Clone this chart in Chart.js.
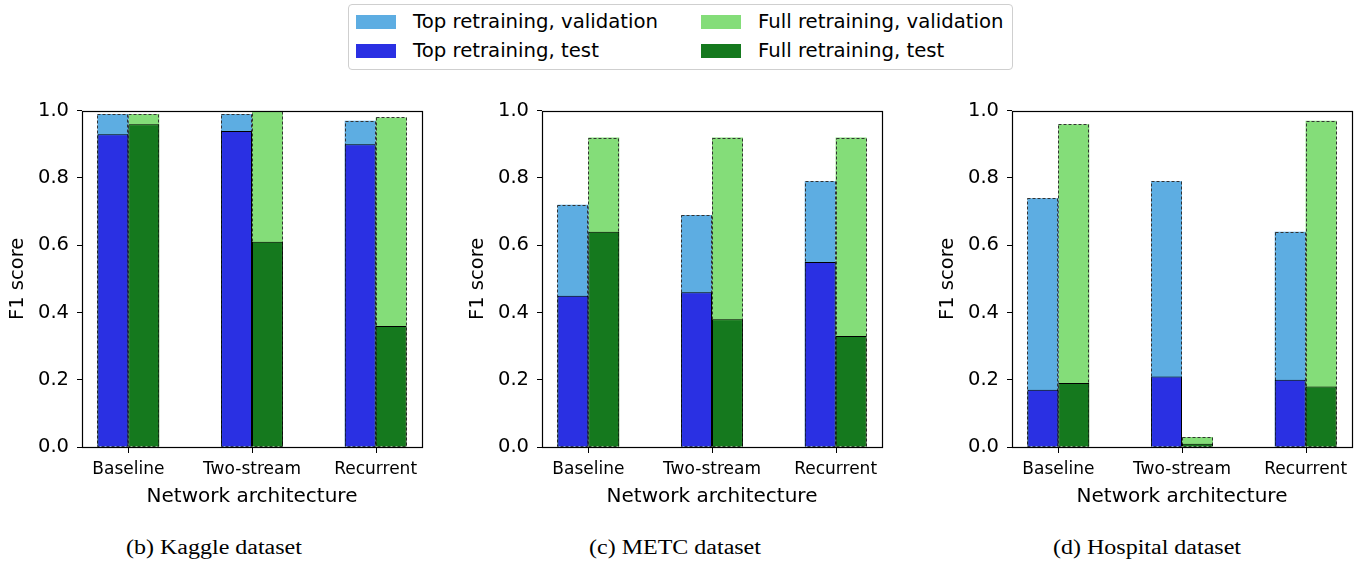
<!DOCTYPE html>
<html>
<head>
<meta charset="utf-8">
<script src="https://cdn.jsdelivr.net/npm/chart.js@4.4.0/dist/chart.umd.min.js"></script>
<style>
body { margin:0; width:1366px; height:565px; background:#fff; position:relative; overflow:hidden; font-family:"DejaVu Sans"; }
canvas { position:absolute; top:91px; }
#legendBox { position:absolute; left:348px; top:4px; width:665px; height:66px; border:1px solid #cfcfcf; border-radius:4px; box-sizing:border-box; }
.sw { position:absolute; width:40px; height:14px; }
.tx { position:absolute; font-size:19.7px; line-height:22px; white-space:nowrap; color:#000; }
.cap { position:absolute; top:535px; font-family:"Liberation Serif"; font-size:20px; line-height:24px; color:#000; white-space:nowrap; transform:scaleX(1.2); transform-origin:left top; }
</style>
</head>
<body>
<div id="legendBox"></div>
<canvas id="c1" width="440" height="424" style="left:0px"></canvas>
<canvas id="c2" width="440" height="424" style="left:460px"></canvas>
<canvas id="c3" width="436" height="424" style="left:930px"></canvas>
<div class="cap" style="left:126px">(b) Kaggle dataset</div>
<div class="cap" style="left:589px">(c) METC dataset</div>
<div class="cap" style="left:1053px">(d) Hospital dataset</div>
<script>
var categories = ['Baseline', 'Two-stream', 'Recurrent'];
var yTickLabels = ['0.0', '0.2', '0.4', '0.6', '0.8', '1.0'];

// Kaggle
var kaggleTopVal = [0.99, 0.99, 0.97];
var kaggleTopTest = [0.93, 0.94, 0.90];
var kaggleFullVal = [0.99, 1.00, 0.98];
var kaggleFullTest = [0.96, 0.61, 0.36];
// METC
var metcTopVal = [0.72, 0.69, 0.79];
var metcTopTest = [0.45, 0.46, 0.55];
var metcFullVal = [0.92, 0.92, 0.92];
var metcFullTest = [0.64, 0.38, 0.33];
// Hospital
var hospTopVal = [0.74, 0.79, 0.64];
var hospTopTest = [0.17, 0.21, 0.20];
var hospFullVal = [0.96, 0.03, 0.97];
var hospFullTest = [0.19, 0.01, 0.18];

var cTopVal = '#5dade2';
var cTopTest = '#2a30e3';
var cFullVal = '#84dd79';
var cFullTest = '#15791e';

// legend (matplotlib fills columns first)
var legendLabels = ['Top retraining, validation', 'Top retraining, test', 'Full retraining, validation', 'Full retraining, test'];
var legendColors = [cTopVal, cTopTest, cFullVal, cFullTest];
var legendPos = [[356, 15], [356, 44], [701, 15], [701, 44]];
legendLabels.forEach(function(l, i) {
    let sw = document.createElement('div');
    sw.className = 'sw';
    sw.style.left = legendPos[i][0] + 'px';
    sw.style.top = legendPos[i][1] + 'px';
    sw.style.background = legendColors[i];
    document.body.appendChild(sw);
    let tx = document.createElement('div');
    tx.className = 'tx';
    tx.style.left = (legendPos[i][0] + 57) + 'px';
    tx.style.top = (legendPos[i][1] - 4) + 'px';
    tx.textContent = l;
    document.body.appendChild(tx);
});

Chart.defaults.font.family = 'DejaVu Sans';
Chart.defaults.color = '#000';

let pts = (arr) => arr.map((v, i) => ({x: i, y: v}));

// dashed edges for the validation bars (behind the test bars)
const dashPlugin = {
    id: 'dashEdge',
    afterDatasetDraw(chart, args) {
        let ds = chart.data.datasets[args.index];
        if (!ds.dashed) return;
        let ctx = chart.ctx;
        ctx.save();
        ctx.strokeStyle = '#333';
        ctx.lineWidth = 1;
        ctx.setLineDash([3, 2]);
        args.meta.data.forEach(function(bar) {
            let p = bar.getProps(['x', 'y', 'base', 'width'], true);
            let x0 = Math.round(p.x - p.width / 2) + 0.5;
            let w = Math.round(p.width) - 1;
            let y0 = Math.round(p.y) + 0.5;
            ctx.strokeRect(x0, y0, w, p.base - y0);
        });
        ctx.restore();
    }
};

// axes box + x tick marks at the category centres
const framePlugin = {
    id: 'frame',
    afterDraw(chart) {
        let a = chart.chartArea;
        let ctx = chart.ctx;
        ctx.save();
        ctx.strokeStyle = '#000';
        ctx.lineWidth = 1.2;
        ctx.strokeRect(Math.round(a.left) + 0.5, Math.round(a.top) + 0.5, Math.round(a.right - a.left), Math.round(a.bottom - a.top));
        ctx.lineWidth = 1;
        let xs = chart.scales.x;
        categories.forEach(function(c, i) {
            let px = Math.round(xs.getPixelForValue(i)) + 0.5;
            ctx.beginPath();
            ctx.moveTo(px, Math.round(a.bottom));
            ctx.lineTo(px, Math.round(a.bottom) + 6);
            ctx.stroke();
        });
        ctx.restore();
    }
};

function makeChart(id, topVal, topTest, fullVal, fullTest, padRight) {
    new Chart(document.getElementById(id), {
        type: 'bar',
        data: {
            datasets: [
                {label: 'Top retraining, test', data: pts(topTest), stack: 'top', order: 0,
                 backgroundColor: cTopTest, borderColor: '#000', borderWidth: 1},
                {label: 'Full retraining, test', data: pts(fullTest), stack: 'full', order: 0,
                 backgroundColor: cFullTest, borderColor: '#000', borderWidth: 1},
                {label: 'Top retraining, validation', data: pts(topVal), stack: 'top', order: 1,
                 backgroundColor: cTopVal, borderWidth: 0, dashed: true},
                {label: 'Full retraining, validation', data: pts(fullVal), stack: 'full', order: 1,
                 backgroundColor: cFullVal, borderWidth: 0, dashed: true}
            ]
        },
        options: {
            responsive: false,
            animation: false,
            devicePixelRatio: 1,
            categoryPercentage: 0.5,
            barPercentage: 1,
            layout: {padding: {top: 11, right: padRight, left: 0, bottom: 0}},
            plugins: {legend: {display: false}, tooltip: {enabled: false}},
            scales: {
                x: {
                    type: 'linear',
                    stacked: true,
                    offset: false,
                    min: -0.375,
                    max: 2.375,
                    afterBuildTicks: function(s) { s.ticks = categories.map((c, i) => ({value: i})); },
                    afterFit: function(s) { s.height = 68; },
                    ticks: {
                        autoSkip: false, maxRotation: 0, padding: 4,
                        font: {size: 17},
                        callback: function(v) { return categories[v]; }
                    },
                    grid: {display: false},
                    border: {display: false},
                    title: {display: true, text: 'Network architecture', font: {size: 20}, padding: {top: 0, bottom: 6}}
                },
                y: {
                    stacked: false,
                    min: 0,
                    max: 1,
                    afterFit: function(s) { s.width = 82; },
                    ticks: {
                        stepSize: 0.2, padding: 8,
                        font: {size: 19.5},
                        callback: function(v, i) { return yTickLabels[i]; }
                    },
                    grid: {display: true, drawOnChartArea: false, drawTicks: true, tickLength: 5, color: '#000'},
                    border: {display: false},
                    title: {display: true, text: 'F1 score', font: {size: 19.5}, padding: {top: 6, bottom: 0}}
                }
            }
        },
        plugins: [dashPlugin, framePlugin]
    });
}

makeChart('c1', kaggleTopVal, kaggleTopTest, kaggleFullVal, kaggleFullTest, 18);
makeChart('c2', metcTopVal, metcTopTest, metcFullVal, metcFullTest, 18);
makeChart('c3', hospTopVal, hospTopTest, hospFullVal, hospFullTest, 14);
</script>
</body>
</html>
